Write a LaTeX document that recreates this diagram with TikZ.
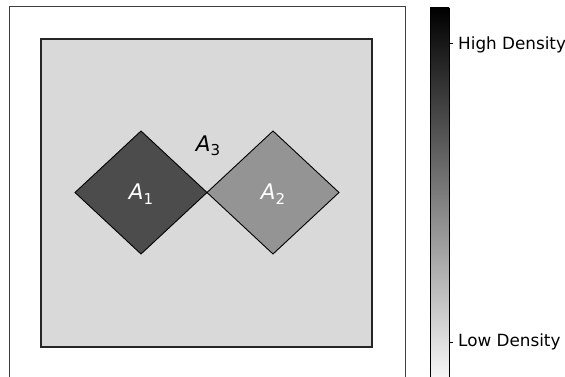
\documentclass[tikz,border=0pt]{standalone}
\usepackage{fontspec}
\setmainfont{DejaVu Sans}
\begin{document}
\begin{tikzpicture}[x=1pt,y=-1pt,
  frameline/.style={draw=black!75,line width=1pt},
  regionbox/.style={draw=black!85,line width=1.5pt,fill=black!15},
  cell/.style={draw=black,line width=0.9pt},
  arealabel/.style={inner sep=0pt,font=\fontsize{21.5}{25}\selectfont},
  ticklabel/.style={anchor=west,inner sep=0pt,font=\fontsize{16.8}{20}\selectfont}]
  \useasboundingbox (0,0) rectangle (565,377);
  \begin{scope}
    \clip (0,0) rectangle (565,377);
    % outer axes frame
    \draw[frameline] (9,7) rectangle (405,390);
    % background region A3
    \draw[regionbox] (41,39) rectangle (372,347);
    % the two diamonds
    \draw[cell,fill=black!70] (75,192.5) -- (141,131) -- (207,192.5) -- (141,254) -- cycle;
    \draw[cell,fill=black!42] (207,192.5) -- (273,131) -- (339,192.5) -- (273,254) -- cycle;
    % colour bar
    \shade[top color=black,bottom color=white] (430,8) rectangle (449,390);
    \draw[black,line width=0.8pt] (430,8) rectangle (449,390);
  \end{scope}
  \node[arealabel,white] (a1) at (141,194) {\textit{A}\raisebox{-4.5pt}{\fontsize{15}{15}\selectfont 1}};
  \node[arealabel,white] (a2) at (273,194) {\textit{A}\raisebox{-4.5pt}{\fontsize{15}{15}\selectfont 2}};
  \node[arealabel,black] (a3) at (208,146) {\textit{A}\raisebox{-4.5pt}{\fontsize{15}{15}\selectfont 3}};
  % colour bar ticks
  \coordinate (thi) at (449,43);
  \coordinate (tlo) at (449,342);
  \draw[line width=0.8pt] (thi) -- ++(4,0);
  \draw[line width=0.8pt] (tlo) -- ++(4,0);
  \node[ticklabel] (hi) at (458,45) {High Density};
  \node[ticklabel] (lo) at (458,342) {Low Density};
\end{tikzpicture}
\end{document}
